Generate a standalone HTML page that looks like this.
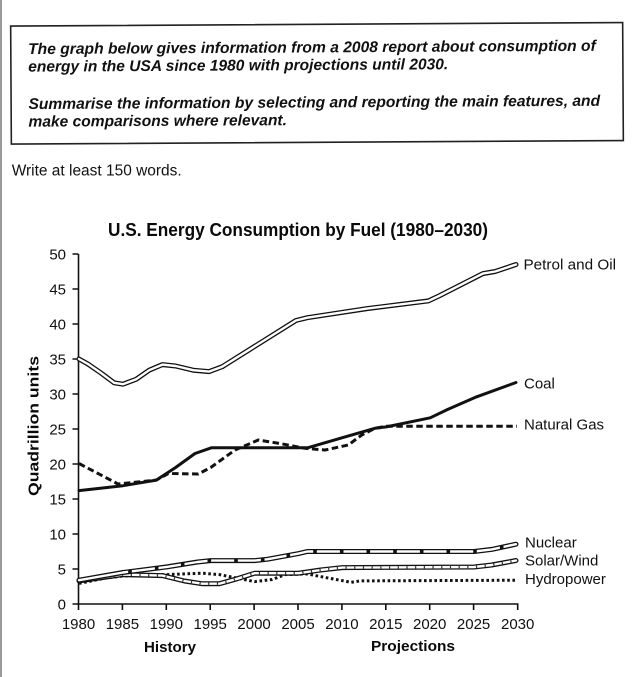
<!DOCTYPE html>
<html><head><meta charset="utf-8"><style>
html,body{margin:0;padding:0;background:#fff;}
svg{display:block;}
</style></head><body>
<svg width="640" height="677" viewBox="0 0 640 677" xmlns="http://www.w3.org/2000/svg">
<rect x="0" y="0" width="640" height="677" fill="#fff"/>
<rect x="0" y="0" width="2" height="677" fill="#9a9a9a"/>

<g transform="rotate(-0.33 317 83)">
<rect x="11" y="24.3" width="612" height="118" fill="none" stroke="#222" stroke-width="1.6"/>
<g font-family="Liberation Sans, Arial, sans-serif" font-weight="bold" font-style="italic" font-size="15.5" fill="#111">
<text x="28.3" y="52.4" textLength="567.7" lengthAdjust="spacingAndGlyphs">The graph below gives information from a 2008 report about consumption of</text>
<text x="28.3" y="70" textLength="420" lengthAdjust="spacingAndGlyphs">energy in the USA since 1980 with projections until 2030.</text>
<text x="28.3" y="107.4" textLength="571.7" lengthAdjust="spacingAndGlyphs">Summarise the information by selecting and reporting the main features, and</text>
<text x="28.3" y="125" textLength="258.4" lengthAdjust="spacingAndGlyphs">make comparisons where relevant.</text>
</g>
</g>
<text x="11.7" y="175.7" font-family="Liberation Sans, Arial, sans-serif" font-size="15.5" fill="#111" textLength="170" lengthAdjust="spacingAndGlyphs">Write at least 150 words.</text>

<text x="108" y="236" font-family="Liberation Sans, Arial, sans-serif" font-weight="bold" font-size="18" fill="#0a0a0a" textLength="380" lengthAdjust="spacingAndGlyphs">U.S. Energy Consumption by Fuel (1980–2030)</text>

<!-- y axis label -->
<text transform="translate(38.5 426) rotate(-90)" text-anchor="middle" font-family="Liberation Sans, Arial, sans-serif" font-weight="bold" font-size="15" fill="#0a0a0a" textLength="140" lengthAdjust="spacingAndGlyphs">Quadrillion units</text>

<!-- axes -->
<g stroke="#111" stroke-width="1.6" fill="none">
<line x1="78.5" y1="254" x2="78.5" y2="604.8"/>
<line x1="77.7" y1="604" x2="518.5" y2="604"/>
<path d="M72.5 254H78.5 M72.5 289H78.5 M72.5 324H78.5 M72.5 359H78.5 M72.5 394H78.5 M72.5 429H78.5 M72.5 464H78.5 M72.5 499H78.5 M72.5 534H78.5 M72.5 569H78.5 M72.5 604H78.5"/>
<path d="M78.5 604V610 M122.4 604V610 M166.3 604V610 M210.2 604V610 M254.1 604V610 M298 604V610 M341.9 604V610 M385.8 604V610 M429.7 604V610 M473.6 604V610 M517.7 604V610"/>
</g>
<g font-family="Liberation Sans, Arial, sans-serif" font-size="15" fill="#111" text-anchor="end">
<text x="66" y="259.3">50</text><text x="66" y="294.3">45</text><text x="66" y="329.3">40</text><text x="66" y="364.3">35</text><text x="66" y="399.3">30</text><text x="66" y="434.3">25</text><text x="66" y="469.3">20</text><text x="66" y="504.3">15</text><text x="66" y="539.3">10</text><text x="66" y="574.3">5</text><text x="66" y="609.3">0</text>
</g>
<g font-family="Liberation Sans, Arial, sans-serif" font-size="15" fill="#111" text-anchor="middle">
<text x="78.5" y="629">1980</text><text x="122.4" y="629">1985</text><text x="166.3" y="629">1990</text><text x="210.2" y="629">1995</text><text x="254.1" y="629">2000</text><text x="298" y="629">2005</text><text x="341.9" y="629">2010</text><text x="385.8" y="629">2015</text><text x="429.7" y="629">2020</text><text x="473.6" y="629">2025</text><text x="517.7" y="629">2030</text>
</g>
<g font-family="Liberation Sans, Arial, sans-serif" font-size="15" font-weight="bold" fill="#0a0a0a">
<text x="144" y="652" textLength="52" lengthAdjust="spacingAndGlyphs">History</text>
<text x="371" y="651" textLength="84" lengthAdjust="spacingAndGlyphs">Projections</text>
</g>

<!-- Petrol and Oil -->
<polyline fill="none" stroke="#111" stroke-width="5" stroke-linejoin="round" stroke-linecap="round" points="79,359 87.8,363.9 101,373 114.1,382.8 122.9,384.2 136.1,379.3 149.2,370.2 162.4,364.6 175.6,366 193.2,370.2 209,371.6 222.2,366.7 254.6,346.4 295.9,320.5 307.3,317.7 367,308.6 428.4,300.9 438.9,296 482.9,273.6 495.2,271.5 516,264.5"/>
<polyline fill="none" stroke="#fff" stroke-width="2.4" stroke-linejoin="round" stroke-linecap="round" points="79,359 87.8,363.9 101,373 114.1,382.8 122.9,384.2 136.1,379.3 149.2,370.2 162.4,364.6 175.6,366 193.2,370.2 209,371.6 222.2,366.7 254.6,346.4 295.9,320.5 307.3,317.7 367,308.6 428.4,300.9 438.9,296 482.9,273.6 495.2,271.5 516,264.5"/>

<!-- Coal -->
<polyline fill="none" stroke="#111" stroke-width="3" stroke-linejoin="round" stroke-linecap="round" points="79,490.6 122.9,485.7 156.3,480.1 175.6,467.5 195,453.5 211.7,447.7 308,447.7 342.4,437.7 374.9,428.3 386.3,426.9 430.2,417.8 447.8,409.4 476.7,396.8 516,382.5"/>

<!-- Natural Gas -->
<polyline fill="none" stroke="#111" stroke-width="3" stroke-dasharray="6.5 3.5" stroke-linejoin="round" points="79,463.5 118,484 156.3,480.1 168.3,473.5 198.3,474 210.7,467.5 235,450 258.3,440 280,443.5 305,448.3 325,450 348.3,445 361.7,435 374.9,428.3 386.3,426.2 517,426.2"/>

<!-- Hydropower -->
<polyline fill="none" stroke="#111" stroke-width="3" stroke-dasharray="2.6 2.6" stroke-linejoin="round" points="79,583.4 105.3,578.1 122.9,576 166.8,574.6 201.9,573.2 219.5,574.6 237,578.1 254.6,581.6 272.2,579.5 285.3,574.6 307.3,573.9 324.8,577.4 351.2,582.3 360,580.9 517,580.2"/>

<!-- Solar/Wind -->
<polyline fill="none" stroke="#111" stroke-width="5" stroke-linejoin="round" stroke-linecap="round" points="79,580.9 122.9,574.6 162.4,575.6 184.4,581 201.9,583.7 219.5,583.7 237,578.8 254.6,573.2 298.5,573.2 320.5,570 342.4,567.6 474.1,567 491.7,565 516,560.5"/>
<polyline fill="none" stroke="#fff" stroke-width="2.4" stroke-linejoin="round" stroke-linecap="round" points="79,580.9 122.9,574.6 162.4,575.6 184.4,581 201.9,583.7 219.5,583.7 237,578.8 254.6,573.2 298.5,573.2 320.5,570 342.4,567.6 474.1,567 491.7,565 516,560.5"/>
<polyline fill="none" stroke="#333" stroke-width="2.4" stroke-dasharray="1.2 7.5" stroke-linejoin="round" points="79,580.9 122.9,574.6 162.4,575.6 184.4,581 201.9,583.7 219.5,583.7 237,578.8 254.6,573.2 298.5,573.2 320.5,570 342.4,567.6 474.1,567 491.7,565 514,561"/>

<!-- Nuclear -->
<polyline fill="none" stroke="#111" stroke-width="5" stroke-linejoin="round" stroke-linecap="round" points="79,580.2 122.9,572.5 166.8,566.9 197.5,562 210.7,560.6 254.6,560.6 267.8,559.2 298.5,553.6 307.3,551.5 474.1,551.5 491.7,549.4 516,544.2"/>
<polyline fill="none" stroke="#fff" stroke-width="2.4" stroke-linejoin="round" stroke-linecap="round" points="79,580.2 122.9,572.5 166.8,566.9 197.5,562 210.7,560.6 254.6,560.6 267.8,559.2 298.5,553.6 307.3,551.5 474.1,551.5 491.7,549.4 516,544.2"/>
<g fill="#111">
<rect x="128.2" y="569.9" width="3.6" height="3.6"/>
<rect x="154.9" y="566.4" width="3.6" height="3.6"/>
<rect x="180.9" y="562.6" width="3.6" height="3.6"/>
<rect x="207.5" y="559" width="3.6" height="3.6"/>
<rect x="234.2" y="558.8" width="3.6" height="3.6"/>
<rect x="260.9" y="557.9" width="3.6" height="3.6"/>
<rect x="286.5" y="553.7" width="3.6" height="3.6"/>
<rect x="313.2" y="549.7" width="3.6" height="3.6"/>
<rect x="339.9" y="549.7" width="3.6" height="3.6"/>
<rect x="366.5" y="549.7" width="3.6" height="3.6"/>
<rect x="393.2" y="549.7" width="3.6" height="3.6"/>
<rect x="419.9" y="549.7" width="3.6" height="3.6"/>
<rect x="446.5" y="549.7" width="3.6" height="3.6"/>
<rect x="473.2" y="549.7" width="3.6" height="3.6"/>
<rect x="499.9" y="545.5" width="3.6" height="3.6"/>
</g>

<!-- series labels -->
<g font-family="Liberation Sans, Arial, sans-serif" font-size="15" fill="#111">
<text x="523.5" y="269.5" textLength="92.5" lengthAdjust="spacingAndGlyphs">Petrol and Oil</text>
<text x="524" y="388.5">Coal</text>
<text x="524" y="429.5">Natural Gas</text>
<text x="525" y="547.5">Nuclear</text>
<text x="525" y="565.5">Solar/Wind</text>
<text x="525" y="584">Hydropower</text>
</g>
</svg>
</body></html>
